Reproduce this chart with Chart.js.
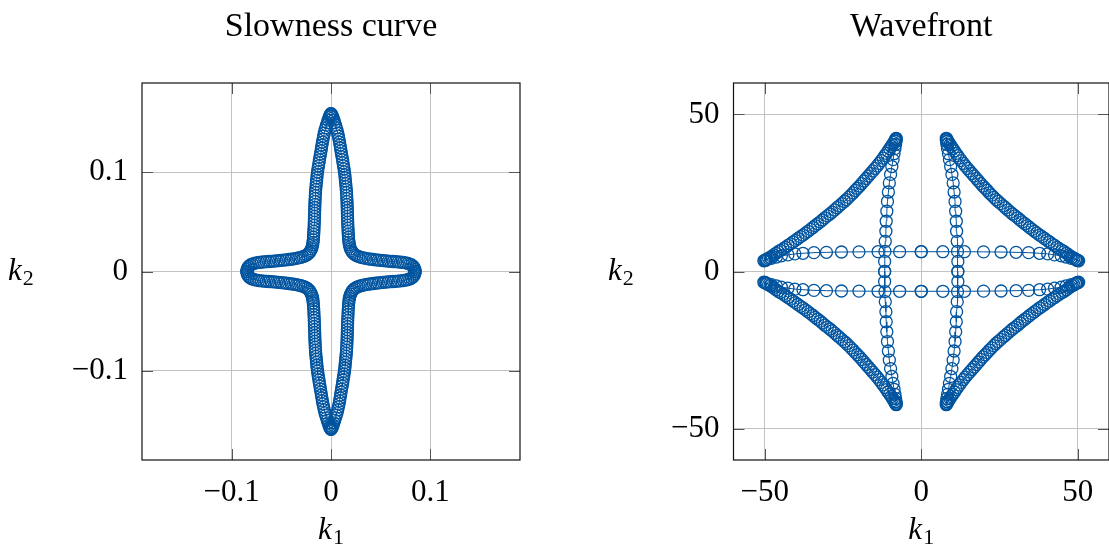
<!DOCTYPE html>
<html>
<head>
<meta charset="utf-8">
<title>Slowness curve and wavefront</title>
<script src="https://cdn.jsdelivr.net/npm/chart.js@4.4.1/dist/chart.umd.min.js"></script>
<style>
  html, body { margin: 0; padding: 0; background: #fff; overflow: hidden; }
  body { width: 1109px; height: 547px; position: relative; }
  canvas { position: absolute; top: 0; }
  #slowChart { left: 0; }
  #waveChart { left: 555px; }
</style>
</head>
<body>
<canvas id="slowChart" width="555" height="547"></canvas>
<canvas id="waveChart" width="580" height="547"></canvas>
<script>
// ---- slowness curve: one quarter traced from the k1 tip to the k2 tip ----
const slowK1Pos = [
  0.0846, 0.0843, 0.0836, 0.0825, 0.0810, 0.0792, 0.0772, 0.0750, 0.0726, 0.0700,
  0.0675, 0.0650, 0.0625, 0.0600, 0.0575, 0.0550, 0.0525, 0.0500, 0.0475, 0.0450,
  0.0425, 0.0400, 0.0375, 0.0350, 0.0325, 0.0302, 0.0280, 0.0260, 0.0242, 0.0227,
  0.0215, 0.0205, 0.0197, 0.0190, 0.0185, 0.0181, 0.0178,
  0.0176, 0.0174, 0.0172, 0.0171, 0.0169, 0.0168, 0.0167, 0.0166, 0.0165, 0.0164,
  0.0163, 0.0162, 0.0161, 0.0159, 0.0158, 0.0156, 0.0154, 0.0151, 0.0148, 0.0145,
  0.0142, 0.0139, 0.0135, 0.0131, 0.0126, 0.0121, 0.0117, 0.0112, 0.0106, 0.0101,
  0.0096, 0.0091, 0.0086, 0.0080, 0.0074, 0.0067, 0.0060, 0.0053, 0.0045, 0.0037,
  0.0029, 0.0021, 0.0013, 0.0006, 0.0000
];
const slowK1Neg = [
  -0.0846, -0.0843, -0.0836, -0.0825, -0.0810, -0.0792, -0.0772, -0.0750, -0.0726, -0.0700,
  -0.0675, -0.0650, -0.0625, -0.0600, -0.0575, -0.0550, -0.0525, -0.0500, -0.0475, -0.0450,
  -0.0425, -0.0400, -0.0375, -0.0350, -0.0325, -0.0302, -0.0280, -0.0260, -0.0242, -0.0227,
  -0.0215, -0.0205, -0.0197, -0.0190, -0.0185, -0.0181, -0.0178,
  -0.0176, -0.0174, -0.0172, -0.0171, -0.0169, -0.0168, -0.0167, -0.0166, -0.0165, -0.0164,
  -0.0163, -0.0162, -0.0161, -0.0159, -0.0158, -0.0156, -0.0154, -0.0151, -0.0148, -0.0145,
  -0.0142, -0.0139, -0.0135, -0.0131, -0.0126, -0.0121, -0.0117, -0.0112, -0.0106, -0.0101,
  -0.0096, -0.0091, -0.0086, -0.0080, -0.0074, -0.0067, -0.0060, -0.0053, -0.0045, -0.0037,
  -0.0029, -0.0021, -0.0013, -0.0006, 0.0000
];
const slowK2Pos = [
  0.0000, 0.0020, 0.0038, 0.0053, 0.0066, 0.0075, 0.0082, 0.0087, 0.0091, 0.0094,
  0.0097, 0.0099, 0.0101, 0.0103, 0.0105, 0.0107, 0.0110, 0.0112, 0.0115, 0.0118,
  0.0121, 0.0124, 0.0128, 0.0132, 0.0137, 0.0143, 0.0150, 0.0158, 0.0168, 0.0180,
  0.0194, 0.0210, 0.0228, 0.0248, 0.0270, 0.0293, 0.0318,
  0.0345, 0.0375, 0.0405, 0.0435, 0.0465, 0.0495, 0.0525, 0.0555, 0.0585, 0.0615,
  0.0645, 0.0675, 0.0705, 0.0735, 0.0765, 0.0795, 0.0825, 0.0855, 0.0885, 0.0915,
  0.0945, 0.0975, 0.1005, 0.1035, 0.1065, 0.1095, 0.1125, 0.1155, 0.1185, 0.1215,
  0.1245, 0.1275, 0.1305, 0.1335, 0.1365, 0.1395, 0.1425, 0.1450, 0.1475, 0.1500,
  0.1525, 0.1550, 0.1570, 0.1583, 0.1590
];
const slowK2Neg = [
  0.0000, -0.0020, -0.0038, -0.0053, -0.0066, -0.0075, -0.0082, -0.0087, -0.0091, -0.0094,
  -0.0097, -0.0099, -0.0101, -0.0103, -0.0105, -0.0107, -0.0110, -0.0112, -0.0115, -0.0118,
  -0.0121, -0.0124, -0.0128, -0.0132, -0.0137, -0.0143, -0.0150, -0.0158, -0.0168, -0.0180,
  -0.0194, -0.0210, -0.0228, -0.0248, -0.0270, -0.0293, -0.0318,
  -0.0345, -0.0375, -0.0405, -0.0435, -0.0465, -0.0495, -0.0525, -0.0555, -0.0585, -0.0615,
  -0.0645, -0.0675, -0.0705, -0.0735, -0.0765, -0.0795, -0.0825, -0.0855, -0.0885, -0.0915,
  -0.0945, -0.0975, -0.1005, -0.1035, -0.1065, -0.1095, -0.1125, -0.1155, -0.1185, -0.1215,
  -0.1245, -0.1275, -0.1305, -0.1335, -0.1365, -0.1395, -0.1425, -0.1450, -0.1475, -0.1500,
  -0.1525, -0.1550, -0.1570, -0.1583, -0.1590
];

// ---- wavefront: one quarter, inner branch up to the cusp, outer arc to the tip, flat branch back ----
const waveK1Pos = [
  11.7, 11.7, 11.6, 11.5, 11.3, 11.2, 11.0, 10.8, 10.5, 10.2, 9.8, 9.4, 9.0, 8.7, 8.4, 8.2, 8.1, 8.0,
  8.0, 8.1, 8.2, 8.5, 8.8, 9.2, 9.6, 10.1, 10.6, 11.1, 11.6, 12.2, 12.8, 13.5, 14.1,
  14.8, 15.5, 16.2, 16.9, 17.6, 18.3, 19.0, 19.7, 20.4, 21.1, 21.8, 22.5, 23.2, 23.9,
  24.6, 25.4, 26.2, 26.9, 27.7, 28.5, 29.2, 30.0, 30.8, 31.6, 32.3, 33.1, 33.9, 34.6,
  35.4, 36.2, 37.0, 37.8, 38.6, 39.4, 40.2, 41.0, 41.8, 42.6, 43.4, 44.2, 45.0,
  45.7, 46.4, 47.1, 47.7, 48.3, 48.8, 49.3, 49.7, 50.0, 50.3,
  49.5, 47.9, 46.3, 44.7, 42.6, 40.4, 37.8, 34.3, 30.3, 25.5, 19.9, 13.8, 6.9, 0.0
];
const waveK1Neg = [
  -11.7, -11.7, -11.6, -11.5, -11.3, -11.2, -11.0, -10.8, -10.5, -10.2, -9.8, -9.4, -9.0, -8.7, -8.4, -8.2, -8.1, -8.0,
  -8.0, -8.1, -8.2, -8.5, -8.8, -9.2, -9.6, -10.1, -10.6, -11.1, -11.6, -12.2, -12.8, -13.5, -14.1,
  -14.8, -15.5, -16.2, -16.9, -17.6, -18.3, -19.0, -19.7, -20.4, -21.1, -21.8, -22.5, -23.2, -23.9,
  -24.6, -25.4, -26.2, -26.9, -27.7, -28.5, -29.2, -30.0, -30.8, -31.6, -32.3, -33.1, -33.9, -34.6,
  -35.4, -36.2, -37.0, -37.8, -38.6, -39.4, -40.2, -41.0, -41.8, -42.6, -43.4, -44.2, -45.0,
  -45.7, -46.4, -47.1, -47.7, -48.3, -48.8, -49.3, -49.7, -50.0, -50.3,
  -49.5, -47.9, -46.3, -44.7, -42.6, -40.4, -37.8, -34.3, -30.3, -25.5, -19.9, -13.8, -6.9, 0.0
];
const waveK2Pos = [
  0.0, 3.2, 6.4, 9.6, 12.8, 16.0, 19.2, 22.3, 25.3, 28.2, 30.9, 33.4, 35.6, 37.5, 39.1, 40.4, 41.4, 41.9,
  42.4, 42.2, 42.0, 41.5, 41.0, 40.4, 39.8, 39.1, 38.4, 37.6, 36.9, 36.1, 35.3, 34.4, 33.6,
  32.8, 32.0, 31.2, 30.4, 29.6, 28.8, 28.0, 27.2, 26.5, 25.8, 25.0, 24.3, 23.6, 22.9,
  22.3, 21.6, 20.9, 20.3, 19.6, 18.9, 18.3, 17.7, 17.1, 16.4, 15.8, 15.2, 14.6, 14.0,
  13.4, 12.8, 12.2, 11.6, 11.1, 10.5, 9.9, 9.4, 8.8, 8.3, 7.7, 7.2, 6.7,
  6.3, 5.8, 5.3, 4.9, 4.5, 4.2, 3.9, 3.6, 3.5, 3.4,
  3.8, 4.2, 4.6, 5.0, 5.3, 5.6, 5.8, 6.0, 6.1, 6.2, 6.25, 6.3, 6.3, 6.3
];
const waveK2Neg = [
  0.0, -3.2, -6.4, -9.6, -12.8, -16.0, -19.2, -22.3, -25.3, -28.2, -30.9, -33.4, -35.6, -37.5, -39.1, -40.4, -41.4, -41.9,
  -42.4, -42.2, -42.0, -41.5, -41.0, -40.4, -39.8, -39.1, -38.4, -37.6, -36.9, -36.1, -35.3, -34.4, -33.6,
  -32.8, -32.0, -31.2, -30.4, -29.6, -28.8, -28.0, -27.2, -26.5, -25.8, -25.0, -24.3, -23.6, -22.9,
  -22.3, -21.6, -20.9, -20.3, -19.6, -18.9, -18.3, -17.7, -17.1, -16.4, -15.8, -15.2, -14.6, -14.0,
  -13.4, -12.8, -12.2, -11.6, -11.1, -10.5, -9.9, -9.4, -8.8, -8.3, -7.7, -7.2, -6.7,
  -6.3, -5.8, -5.3, -4.9, -4.5, -4.2, -3.9, -3.6, -3.5, -3.4,
  -3.8, -4.2, -4.6, -5.0, -5.3, -5.6, -5.8, -6.0, -6.1, -6.2, -6.25, -6.3, -6.3, -6.3
];

// ---- axes ----
const slowTicks = [-0.1, 0, 0.1];
const slowTickLabels = ['\u22120.1', '0', '0.1'];
const waveTicks = [-50, 0, 50];
const waveTickLabels = ['\u221250', '0', '50'];

const BLUE = '#00549f';
const SERIF = '"Liberation Serif", "Times New Roman", serif';

function toPoints(xs, ys) {
    return xs.map((x, i) => ({ x: x, y: ys[i] }));
}

function curveDataset(points) {
    return {
        data: points,
        showLine: true,
        borderColor: BLUE,
        borderWidth: 1,
        tension: 0,
        fill: false,
        pointStyle: 'circle',
        pointRadius: 6,
        pointHoverRadius: 6,
        pointBorderWidth: 1.3,
        pointBorderColor: BLUE,
        pointBackgroundColor: 'rgba(0,0,0,0)'
    };
}

// k with a subscript index, drawn at a baseline
function drawSymbol(ctx, x, y, sub, centered) {
    ctx.font = 'italic 31px ' + SERIF;
    const kw = ctx.measureText('k').width;
    ctx.font = '22px ' + SERIF;
    const sw = ctx.measureText(sub).width;
    const left = centered ? x - (kw + sw + 1) / 2 : x;
    ctx.textAlign = 'left';
    ctx.textBaseline = 'alphabetic';
    ctx.font = 'italic 31px ' + SERIF;
    ctx.fillText('k', left, y);
    ctx.font = '22px ' + SERIF;
    ctx.fillText(sub, left + kw + 1, y + 5);
}

// box, inward tick marks, title and axis symbols
const framePlugin = {
    id: 'frame',
    afterDraw(chart, args, opts) {
        const ctx = chart.ctx;
        const area = chart.chartArea;
        const xs = chart.scales.x;
        const ys = chart.scales.y;
        ctx.save();

        ctx.strokeStyle = '#555';
        ctx.lineWidth = 1;
        ctx.beginPath();
        xs.ticks.forEach(t => {
            const px = Math.round(xs.getPixelForValue(t.value)) + 0.5;
            ctx.moveTo(px, area.top); ctx.lineTo(px, area.top + 11);
            ctx.moveTo(px, area.bottom); ctx.lineTo(px, area.bottom - 11);
        });
        ys.ticks.forEach(t => {
            const py = Math.round(ys.getPixelForValue(t.value)) + 0.5;
            ctx.moveTo(area.left, py); ctx.lineTo(area.left + 11, py);
            ctx.moveTo(area.right, py); ctx.lineTo(area.right - 11, py);
        });
        ctx.stroke();

        ctx.strokeStyle = '#111';
        ctx.lineWidth = 1.2;
        ctx.strokeRect(area.left, area.top, area.right - area.left, area.bottom - area.top);

        const cx = (area.left + area.right) / 2;
        ctx.fillStyle = '#000';
        ctx.font = '34px ' + SERIF;
        ctx.textAlign = 'center';
        ctx.textBaseline = 'alphabetic';
        ctx.fillText(opts.title, cx, 36);

        drawSymbol(ctx, cx, 539, '1', true);
        drawSymbol(ctx, opts.yLabelX, 280, '2', false);
        ctx.restore();
    }
};

function makeChart(canvasId, datasets, cfg) {
    const ctx = document.getElementById(canvasId).getContext('2d');
    const axis = (ticks, labels, limit, fit) => ({
        type: 'linear',
        min: -limit,
        max: limit,
        afterBuildTicks: scale => { scale.ticks = ticks.map(v => ({ value: v })); },
        afterFit: fit,
        grid: { color: '#c2c2c2', lineWidth: 1, drawTicks: false },
        border: { display: false },
        ticks: {
            color: '#000',
            padding: 14,
            font: { family: SERIF, size: 31 },
            callback: v => labels[ticks.indexOf(v)]
        }
    });

    return new Chart(ctx, {
        type: 'scatter',
        data: { datasets: datasets },
        options: {
            responsive: false,
            animation: false,
            events: [],
            layout: { padding: { left: 0, right: cfg.padRight, top: 83, bottom: 0 } },
            plugins: {
                legend: { display: false },
                tooltip: { enabled: false },
                frame: { title: cfg.title, yLabelX: cfg.yLabelX }
            },
            scales: {
                x: axis(cfg.ticks, cfg.labels, cfg.limit, s => { s.height = 87; }),
                y: axis(cfg.ticks, cfg.labels, cfg.limit, s => { s.width = cfg.yWidth; })
            }
        },
        plugins: [framePlugin]
    });
}

makeChart('slowChart', [
    curveDataset(toPoints(slowK1Pos, slowK2Pos)),
    curveDataset(toPoints(slowK1Neg, slowK2Pos)),
    curveDataset(toPoints(slowK1Neg, slowK2Neg)),
    curveDataset(toPoints(slowK1Pos, slowK2Neg))
], {
    title: 'Slowness curve',
    ticks: slowTicks, labels: slowTickLabels, limit: 0.19,
    yWidth: 142, padRight: 35, yLabelX: 8
});

makeChart('waveChart', [
    curveDataset(toPoints(waveK1Pos, waveK2Pos)),
    curveDataset(toPoints(waveK1Neg, waveK2Pos)),
    curveDataset(toPoints(waveK1Neg, waveK2Neg)),
    curveDataset(toPoints(waveK1Pos, waveK2Neg))
], {
    title: 'Wavefront',
    ticks: waveTicks, labels: waveTickLabels, limit: 60,
    yWidth: 178.5, padRight: 26, yLabelX: 53
});
</script>
</body>
</html>
